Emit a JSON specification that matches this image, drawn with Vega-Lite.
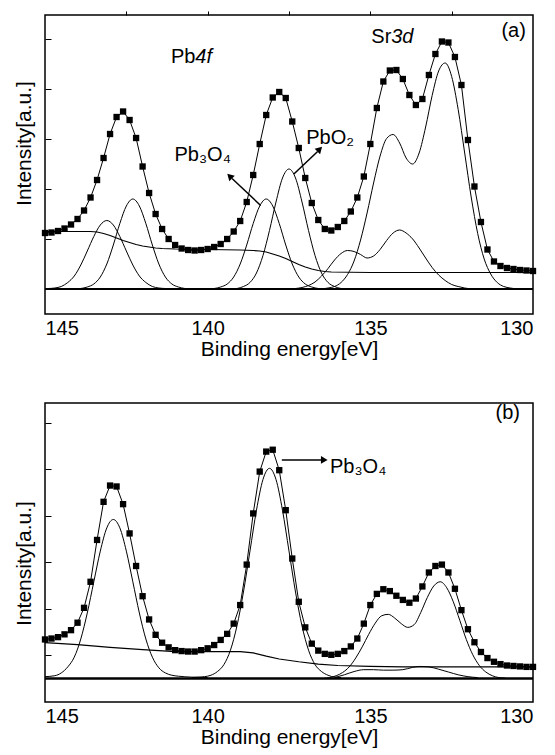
{
  "$schema": "https://vega.github.io/schema/vega-lite/v6.json",
  "padding": {"left": 12, "top": 9, "right": 0, "bottom": 12},
  "spacing": 41,
  "config": {
    "font": "Liberation Sans",
    "view": {"stroke": "#000", "strokeWidth": 1.5},
    "axis": {"grid": false, "domain": false, "labelColor": "#000", "titleColor": "#000", "tickColor": "#000", "titleFontWeight": "normal", "labelFontSize": 20, "titleFontSize": 21}
  },
  "datasets": {
    "zero": [{"v": 0}],
    "aPts": [
      {"x":145.0,"y":1.12},{"x":144.8,"y":1.13},{"x":144.6,"y":1.16},{"x":144.4,"y":1.21},{"x":144.2,"y":1.29},{"x":144.0,"y":1.40},{"x":143.8,"y":1.57},{"x":143.6,"y":1.83},{"x":143.4,"y":2.18},{"x":143.2,"y":2.62},{"x":143.0,"y":3.10},{"x":142.8,"y":3.44},{"x":142.6,"y":3.55},{"x":142.4,"y":3.38},{"x":142.2,"y":3.02},{"x":142.0,"y":2.45},{"x":141.8,"y":1.92},{"x":141.6,"y":1.50},{"x":141.4,"y":1.20},{"x":141.2,"y":1.00},{"x":141.0,"y":0.88},{"x":140.8,"y":0.81},{"x":140.6,"y":0.78},{"x":140.4,"y":0.77},{"x":140.2,"y":0.78},{"x":140.0,"y":0.80},{"x":139.8,"y":0.84},{"x":139.6,"y":0.90},{"x":139.4,"y":1.00},{"x":139.2,"y":1.15},{"x":139.0,"y":1.36},{"x":138.8,"y":1.74},{"x":138.6,"y":2.28},{"x":138.4,"y":2.90},{"x":138.2,"y":3.48},{"x":138.0,"y":3.83},{"x":137.8,"y":3.94},{"x":137.6,"y":3.82},{"x":137.4,"y":3.35},{"x":137.2,"y":2.82},{"x":137.0,"y":2.22},{"x":136.8,"y":1.72},{"x":136.6,"y":1.38},{"x":136.4,"y":1.20},{"x":136.2,"y":1.17},{"x":136.0,"y":1.24},{"x":135.8,"y":1.36},{"x":135.6,"y":1.55},{"x":135.4,"y":1.83},{"x":135.2,"y":2.25},{"x":135.0,"y":2.90},{"x":134.8,"y":3.62},{"x":134.6,"y":4.15},{"x":134.4,"y":4.37},{"x":134.2,"y":4.38},{"x":134.0,"y":4.20},{"x":133.8,"y":3.88},{"x":133.6,"y":3.68},{"x":133.4,"y":3.80},{"x":133.2,"y":4.28},{"x":133.0,"y":4.70},{"x":132.8,"y":4.95},{"x":132.6,"y":4.93},{"x":132.4,"y":4.64},{"x":132.2,"y":4.08},{"x":132.0,"y":2.98},{"x":131.8,"y":2.05},{"x":131.6,"y":1.34},{"x":131.4,"y":0.79},{"x":131.2,"y":0.55},{"x":131.0,"y":0.46},{"x":130.8,"y":0.42},{"x":130.6,"y":0.40},{"x":130.4,"y":0.38},{"x":130.2,"y":0.37},{"x":130.0,"y":0.36}
    ],
    "aBg": [
      {"x":145.0,"y":1.15},{"x":143.6,"y":1.15},{"x":143.4,"y":1.14},{"x":143.2,"y":1.11},{"x":143.0,"y":1.07},{"x":142.8,"y":1.02},{"x":142.6,"y":0.97},{"x":142.4,"y":0.93},{"x":142.2,"y":0.89},{"x":142.0,"y":0.86},{"x":141.8,"y":0.84},{"x":141.6,"y":0.82},{"x":141.4,"y":0.81},{"x":141.0,"y":0.80},{"x":140.0,"y":0.79},{"x":139.0,"y":0.78},{"x":138.6,"y":0.77},{"x":138.4,"y":0.76},{"x":138.2,"y":0.74},{"x":138.0,"y":0.70},{"x":137.8,"y":0.66},{"x":137.6,"y":0.61},{"x":137.4,"y":0.55},{"x":137.2,"y":0.49},{"x":137.0,"y":0.44},{"x":136.8,"y":0.40},{"x":136.6,"y":0.37},{"x":136.4,"y":0.35},{"x":136.2,"y":0.34},{"x":135.0,"y":0.33},{"x":130.0,"y":0.33}
    ],
    "aLines": [
      {"s":"p1","x":144.9,"y":0.01},{"s":"p1","x":144.7,"y":0.02},{"s":"p1","x":144.5,"y":0.05},{"s":"p1","x":144.3,"y":0.13},{"s":"p1","x":144.1,"y":0.26},{"s":"p1","x":143.9,"y":0.48},{"s":"p1","x":143.7,"y":0.76},{"s":"p1","x":143.5,"y":1.05},{"s":"p1","x":143.3,"y":1.28},{"s":"p1","x":143.1,"y":1.37},{"s":"p1","x":142.9,"y":1.28},{"s":"p1","x":142.7,"y":1.05},{"s":"p1","x":142.5,"y":0.76},{"s":"p1","x":142.3,"y":0.48},{"s":"p1","x":142.1,"y":0.26},{"s":"p1","x":141.9,"y":0.13},{"s":"p1","x":141.7,"y":0.05},{"s":"p1","x":141.5,"y":0.02},{"s":"p1","x":141.3,"y":0.01},
      {"s":"p2","x":144.1,"y":0.0},{"s":"p2","x":143.9,"y":0.01},{"s":"p2","x":143.7,"y":0.04},{"s":"p2","x":143.5,"y":0.10},{"s":"p2","x":143.3,"y":0.24},{"s":"p2","x":143.1,"y":0.50},{"s":"p2","x":142.9,"y":0.88},{"s":"p2","x":142.7,"y":1.31},{"s":"p2","x":142.5,"y":1.66},{"s":"p2","x":142.3,"y":1.80},{"s":"p2","x":142.1,"y":1.66},{"s":"p2","x":141.9,"y":1.31},{"s":"p2","x":141.7,"y":0.88},{"s":"p2","x":141.5,"y":0.50},{"s":"p2","x":141.3,"y":0.24},{"s":"p2","x":141.1,"y":0.10},{"s":"p2","x":140.9,"y":0.04},{"s":"p2","x":140.7,"y":0.01},{"s":"p2","x":140.5,"y":0.0},
      {"s":"p3","x":140.0,"y":0.0},{"s":"p3","x":139.8,"y":0.01},{"s":"p3","x":139.6,"y":0.04},{"s":"p3","x":139.4,"y":0.10},{"s":"p3","x":139.2,"y":0.24},{"s":"p3","x":139.0,"y":0.50},{"s":"p3","x":138.8,"y":0.88},{"s":"p3","x":138.6,"y":1.31},{"s":"p3","x":138.4,"y":1.66},{"s":"p3","x":138.2,"y":1.80},{"s":"p3","x":138.0,"y":1.66},{"s":"p3","x":137.8,"y":1.31},{"s":"p3","x":137.6,"y":0.88},{"s":"p3","x":137.4,"y":0.50},{"s":"p3","x":137.2,"y":0.24},{"s":"p3","x":137.0,"y":0.10},{"s":"p3","x":136.8,"y":0.04},{"s":"p3","x":136.6,"y":0.01},{"s":"p3","x":136.4,"y":0.0},
      {"s":"p4","x":139.3,"y":0.0},{"s":"p4","x":139.1,"y":0.01},{"s":"p4","x":138.9,"y":0.05},{"s":"p4","x":138.7,"y":0.13},{"s":"p4","x":138.5,"y":0.32},{"s":"p4","x":138.3,"y":0.67},{"s":"p4","x":138.1,"y":1.17},{"s":"p4","x":137.9,"y":1.74},{"s":"p4","x":137.7,"y":2.22},{"s":"p4","x":137.5,"y":2.40},{"s":"p4","x":137.3,"y":2.22},{"s":"p4","x":137.1,"y":1.74},{"s":"p4","x":136.9,"y":1.17},{"s":"p4","x":136.7,"y":0.67},{"s":"p4","x":136.5,"y":0.32},{"s":"p4","x":136.3,"y":0.13},{"s":"p4","x":136.1,"y":0.05},{"s":"p4","x":135.9,"y":0.01},{"s":"p4","x":135.7,"y":0.0},
      {"s":"srA","x":136.5,"y":0.0},{"s":"srA","x":136.3,"y":0.02},{"s":"srA","x":136.1,"y":0.05},{"s":"srA","x":135.9,"y":0.13},{"s":"srA","x":135.7,"y":0.29},{"s":"srA","x":135.5,"y":0.56},{"s":"srA","x":135.3,"y":0.98},{"s":"srA","x":135.1,"y":1.52},{"s":"srA","x":134.9,"y":2.12},{"s":"srA","x":134.7,"y":2.66},{"s":"srA","x":134.5,"y":3.01},{"s":"srA","x":134.3,"y":3.09},{"s":"srA","x":134.1,"y":2.92},{"s":"srA","x":133.9,"y":2.62},{"s":"srA","x":133.7,"y":2.50},{"s":"srA","x":133.5,"y":2.72},{"s":"srA","x":133.3,"y":3.24},{"s":"srA","x":133.1,"y":3.87},{"s":"srA","x":132.9,"y":4.36},{"s":"srA","x":132.7,"y":4.52},{"s":"srA","x":132.5,"y":4.25},{"s":"srA","x":132.3,"y":3.59},{"s":"srA","x":132.1,"y":2.72},{"s":"srA","x":131.9,"y":1.84},{"s":"srA","x":131.7,"y":1.11},{"s":"srA","x":131.5,"y":0.60},{"s":"srA","x":131.3,"y":0.30},{"s":"srA","x":131.1,"y":0.13},{"s":"srA","x":130.9,"y":0.05},{"s":"srA","x":130.7,"y":0.02},{"s":"srA","x":130.5,"y":0.0},
      {"s":"srB","x":137.5,"y":0.0},{"s":"srB","x":137.3,"y":0.01},{"s":"srB","x":137.1,"y":0.03},{"s":"srB","x":136.9,"y":0.07},{"s":"srB","x":136.7,"y":0.14},{"s":"srB","x":136.5,"y":0.26},{"s":"srB","x":136.3,"y":0.41},{"s":"srB","x":136.1,"y":0.58},{"s":"srB","x":135.9,"y":0.71},{"s":"srB","x":135.7,"y":0.77},{"s":"srB","x":135.5,"y":0.75},{"s":"srB","x":135.3,"y":0.69},{"s":"srB","x":135.1,"y":0.62},{"s":"srB","x":134.9,"y":0.66},{"s":"srB","x":134.7,"y":0.79},{"s":"srB","x":134.5,"y":0.97},{"s":"srB","x":134.3,"y":1.12},{"s":"srB","x":134.1,"y":1.18},{"s":"srB","x":133.9,"y":1.12},{"s":"srB","x":133.7,"y":1.00},{"s":"srB","x":133.5,"y":0.82},{"s":"srB","x":133.3,"y":0.62},{"s":"srB","x":133.1,"y":0.43},{"s":"srB","x":132.9,"y":0.28},{"s":"srB","x":132.7,"y":0.17},{"s":"srB","x":132.5,"y":0.09},{"s":"srB","x":132.3,"y":0.05},{"s":"srB","x":132.1,"y":0.02},{"s":"srB","x":131.9,"y":0.0}
    ],
    "aTxt": [
      {"x":141.13,"y":4.65,"t":"Pb"},{"x":134.97,"y":5.05,"t":"Sr"},{"x":130.97,"y":5.17,"t":"(a)"},{"x":141.02,"y":2.68,"t":"Pb₃O₄"},{"x":136.97,"y":3.03,"t":"PbO₂"}
    ],
    "aIt": [
      {"x":140.38,"y":4.65,"t":"4f"},{"x":134.36,"y":5.05,"t":"3d"}
    ],
    "aArr": [
      {"x":138.37,"y":1.67,"x2":139.25,"y2":2.21},{"x":137.35,"y":2.30,"x2":136.62,"y2":2.75}
    ],
    "aHead": [
      {"x":139.3,"y":2.24,"ang":315},{"x":136.58,"y":2.78,"ang":45}
    ],
    "bPts": [
      {"x":145.0,"y":0.84},{"x":144.8,"y":0.86},{"x":144.6,"y":0.89},{"x":144.4,"y":0.95},{"x":144.2,"y":1.04},{"x":144.0,"y":1.20},{"x":143.8,"y":1.52},{"x":143.6,"y":2.08},{"x":143.4,"y":2.98},{"x":143.2,"y":3.80},{"x":143.0,"y":4.15},{"x":142.8,"y":4.13},{"x":142.6,"y":3.75},{"x":142.4,"y":3.12},{"x":142.2,"y":2.42},{"x":142.0,"y":1.77},{"x":141.8,"y":1.27},{"x":141.6,"y":0.94},{"x":141.4,"y":0.77},{"x":141.2,"y":0.67},{"x":141.0,"y":0.61},{"x":140.8,"y":0.59},{"x":140.6,"y":0.58},{"x":140.4,"y":0.58},{"x":140.2,"y":0.61},{"x":140.0,"y":0.65},{"x":139.8,"y":0.72},{"x":139.6,"y":0.83},{"x":139.4,"y":0.96},{"x":139.2,"y":1.18},{"x":139.0,"y":1.58},{"x":138.8,"y":2.45},{"x":138.6,"y":3.55},{"x":138.4,"y":4.45},{"x":138.2,"y":4.88},{"x":138.0,"y":4.92},{"x":137.8,"y":4.48},{"x":137.6,"y":3.62},{"x":137.4,"y":2.58},{"x":137.2,"y":1.65},{"x":137.0,"y":1.10},{"x":136.8,"y":0.75},{"x":136.6,"y":0.60},{"x":136.4,"y":0.53},{"x":136.2,"y":0.51},{"x":136.0,"y":0.53},{"x":135.8,"y":0.59},{"x":135.6,"y":0.69},{"x":135.4,"y":0.86},{"x":135.2,"y":1.18},{"x":135.0,"y":1.58},{"x":134.8,"y":1.82},{"x":134.6,"y":1.92},{"x":134.4,"y":1.88},{"x":134.2,"y":1.78},{"x":134.0,"y":1.69},{"x":133.8,"y":1.63},{"x":133.6,"y":1.72},{"x":133.4,"y":1.98},{"x":133.2,"y":2.28},{"x":133.0,"y":2.42},{"x":132.8,"y":2.45},{"x":132.6,"y":2.28},{"x":132.4,"y":1.93},{"x":132.2,"y":1.47},{"x":132.0,"y":1.06},{"x":131.8,"y":0.78},{"x":131.6,"y":0.57},{"x":131.4,"y":0.44},{"x":131.2,"y":0.36},{"x":131.0,"y":0.31},{"x":130.8,"y":0.28},{"x":130.6,"y":0.27},{"x":130.4,"y":0.26},{"x":130.2,"y":0.25},{"x":130.0,"y":0.25}
    ],
    "bBg": [
      {"x":145.0,"y":0.77},{"x":144.0,"y":0.73},{"x":143.0,"y":0.67},{"x":142.0,"y":0.62},{"x":141.0,"y":0.58},{"x":140.0,"y":0.58},{"x":139.0,"y":0.58},{"x":138.6,"y":0.55},{"x":138.2,"y":0.48},{"x":137.8,"y":0.42},{"x":137.2,"y":0.36},{"x":136.6,"y":0.31},{"x":136.0,"y":0.28},{"x":135.0,"y":0.26},{"x":134.0,"y":0.25},{"x":130.0,"y":0.25}
    ],
    "bLines": [
      {"s":"L","x":145.0,"y":0.04},{"s":"L","x":144.7,"y":0.06},{"s":"L","x":144.5,"y":0.12},{"s":"L","x":144.3,"y":0.25},{"s":"L","x":144.1,"y":0.46},{"s":"L","x":143.9,"y":0.85},{"s":"L","x":143.7,"y":1.41},{"s":"L","x":143.5,"y":2.08},{"s":"L","x":143.3,"y":2.74},{"s":"L","x":143.1,"y":3.24},{"s":"L","x":142.9,"y":3.42},{"s":"L","x":142.7,"y":3.24},{"s":"L","x":142.5,"y":2.74},{"s":"L","x":142.3,"y":2.08},{"s":"L","x":142.1,"y":1.41},{"s":"L","x":141.9,"y":0.85},{"s":"L","x":141.7,"y":0.46},{"s":"L","x":141.5,"y":0.23},{"s":"L","x":141.3,"y":0.12},{"s":"L","x":141.1,"y":0.07},{"s":"L","x":140.9,"y":0.05},{"s":"L","x":140.5,"y":0.03},{"s":"L","x":140.0,"y":0.02},
      {"s":"M","x":140.5,"y":0.02},{"s":"M","x":140.3,"y":0.03},{"s":"M","x":140.1,"y":0.04},{"s":"M","x":139.9,"y":0.07},{"s":"M","x":139.7,"y":0.15},{"s":"M","x":139.5,"y":0.30},{"s":"M","x":139.3,"y":0.61},{"s":"M","x":139.1,"y":1.13},{"s":"M","x":138.9,"y":1.86},{"s":"M","x":138.7,"y":2.74},{"s":"M","x":138.5,"y":3.62},{"s":"M","x":138.3,"y":4.28},{"s":"M","x":138.1,"y":4.52},{"s":"M","x":137.9,"y":4.28},{"s":"M","x":137.7,"y":3.62},{"s":"M","x":137.5,"y":2.74},{"s":"M","x":137.3,"y":1.86},{"s":"M","x":137.1,"y":1.13},{"s":"M","x":136.9,"y":0.61},{"s":"M","x":136.7,"y":0.30},{"s":"M","x":136.5,"y":0.15},{"s":"M","x":136.3,"y":0.07},{"s":"M","x":136.1,"y":0.03},{"s":"M","x":135.9,"y":0.02},
      {"s":"S","x":136.45,"y":0.0},{"s":"S","x":136.25,"y":0.02},{"s":"S","x":136.05,"y":0.06},{"s":"S","x":135.85,"y":0.13},{"s":"S","x":135.65,"y":0.25},{"s":"S","x":135.45,"y":0.44},{"s":"S","x":135.25,"y":0.68},{"s":"S","x":135.05,"y":0.95},{"s":"S","x":134.85,"y":1.19},{"s":"S","x":134.65,"y":1.35},{"s":"S","x":134.45,"y":1.38},{"s":"S","x":134.25,"y":1.30},{"s":"S","x":134.05,"y":1.18},{"s":"S","x":133.85,"y":1.10},{"s":"S","x":133.65,"y":1.16},{"s":"S","x":133.45,"y":1.42},{"s":"S","x":133.25,"y":1.74},{"s":"S","x":133.05,"y":1.99},{"s":"S","x":132.85,"y":2.08},{"s":"S","x":132.65,"y":1.95},{"s":"S","x":132.45,"y":1.65},{"s":"S","x":132.25,"y":1.25},{"s":"S","x":132.05,"y":0.84},{"s":"S","x":131.85,"y":0.51},{"s":"S","x":131.65,"y":0.28},{"s":"S","x":131.45,"y":0.14},{"s":"S","x":131.25,"y":0.06},{"s":"S","x":131.05,"y":0.02},{"s":"S","x":130.85,"y":0.01},
      {"s":"T","x":136.1,"y":0.02},{"s":"T","x":135.8,"y":0.08},{"s":"T","x":135.5,"y":0.15},{"s":"T","x":135.2,"y":0.19},{"s":"T","x":134.9,"y":0.19},{"s":"T","x":134.6,"y":0.18},{"s":"T","x":134.3,"y":0.18},{"s":"T","x":134.0,"y":0.19},{"s":"T","x":133.7,"y":0.24},{"s":"T","x":133.5,"y":0.26},{"s":"T","x":133.2,"y":0.25},{"s":"T","x":132.9,"y":0.20},{"s":"T","x":132.6,"y":0.14},{"s":"T","x":132.3,"y":0.08},{"s":"T","x":132.0,"y":0.04},{"s":"T","x":131.7,"y":0.02}
    ],
    "bTxt": [
      {"x":131.15,"y":5.72,"t":"(b)"},{"x":136.24,"y":4.55,"t":"Pb₃O₄"}
    ],
    "bArr": [
      {"x":137.72,"y":4.70,"x2":136.5,"y2":4.70}
    ],
    "bHead": [
      {"x":136.45,"y":4.70,"ang":90}
    ]
  },
  "vconcat": [
    {
      "width": 488,
      "height": 299,
      "resolve": {"axis": {"x": "independent"}},
      "layer": [
        {
          "data": {"name": "aLines"},
          "mark": {"type": "line", "color": "#000", "strokeWidth": 1, "interpolate": "monotone"},
          "encoding": {
            "x": {"field": "x", "type": "quantitative", "scale": {"domain": [145, 130], "nice": false, "zero": false}, "axis": {"values": [145, 140, 135, 130], "ticks": false, "format": "d", "labelPadding": 4, "title": "Binding energy[eV]", "titleY": 24, "titleBaseline": "top"}},
            "y": {"field": "y", "type": "quantitative", "scale": {"domain": [-0.5, 5.48], "nice": false, "zero": false}, "axis": {"values": [1, 2, 3, 4, 5], "labels": false, "tickSize": -6, "title": "Intensity[a.u.]", "titlePadding": 10, "titleY": 128}},
            "detail": {"field": "s"}
          }
        },
        {
          "data": {"name": "aBg"},
          "mark": {"type": "line", "color": "#000", "strokeWidth": 1.2},
          "encoding": {
            "x": {"field": "x", "type": "quantitative", "axis": {"orient": "top", "values": [142.5, 140, 137.5, 135, 132.5], "labels": false, "tickSize": 4, "title": null}},
            "y": {"field": "y", "type": "quantitative"}
          }
        },
        {
          "data": {"name": "zero"},
          "mark": {"type": "rule", "color": "#000", "strokeWidth": 2},
          "encoding": {"y": {"field": "v", "type": "quantitative"}}
        },
        {
          "data": {"name": "aPts"},
          "mark": {"type": "line", "color": "#000", "strokeWidth": 1},
          "encoding": {
            "x": {"field": "x", "type": "quantitative", "axis": null},
            "y": {"field": "y", "type": "quantitative"}
          }
        },
        {
          "data": {"name": "aPts"},
          "mark": {"type": "square", "color": "#000", "filled": true, "opacity": 1, "size": 40},
          "encoding": {
            "x": {"field": "x", "type": "quantitative", "axis": null},
            "y": {"field": "y", "type": "quantitative"}
          }
        },
        {
          "data": {"name": "aArr"},
          "mark": {"type": "rule", "color": "#000", "strokeWidth": 1.5},
          "encoding": {
            "x": {"field": "x", "type": "quantitative", "axis": null},
            "y": {"field": "y", "type": "quantitative"},
            "x2": {"field": "x2"},
            "y2": {"field": "y2"}
          }
        },
        {
          "data": {"name": "aHead"},
          "mark": {"type": "point", "shape": "triangle", "filled": true, "color": "#000", "opacity": 1, "size": 60},
          "encoding": {
            "x": {"field": "x", "type": "quantitative", "axis": null},
            "y": {"field": "y", "type": "quantitative"},
            "angle": {"field": "ang", "type": "quantitative", "scale": null}
          }
        },
        {
          "data": {"name": "aTxt"},
          "mark": {"type": "text", "align": "left", "baseline": "middle", "fontSize": 20, "color": "#000"},
          "encoding": {
            "x": {"field": "x", "type": "quantitative", "axis": null},
            "y": {"field": "y", "type": "quantitative"},
            "text": {"field": "t"}
          }
        },
        {
          "data": {"name": "aIt"},
          "mark": {"type": "text", "align": "left", "baseline": "middle", "fontSize": 20, "fontStyle": "italic", "color": "#000"},
          "encoding": {
            "x": {"field": "x", "type": "quantitative", "axis": null},
            "y": {"field": "y", "type": "quantitative"},
            "text": {"field": "t"}
          }
        }
      ]
    },
    {
      "width": 488,
      "height": 299,
      "layer": [
        {
          "data": {"name": "bLines"},
          "mark": {"type": "line", "color": "#000", "strokeWidth": 1, "interpolate": "monotone"},
          "encoding": {
            "x": {"field": "x", "type": "quantitative", "scale": {"domain": [145, 130], "nice": false, "zero": false}, "axis": {"values": [145, 140, 135, 130], "ticks": false, "format": "d", "labelPadding": 4, "title": "Binding energy[eV]", "titleY": 24, "titleBaseline": "top"}},
            "y": {"field": "y", "type": "quantitative", "scale": {"domain": [-0.505, 5.925], "nice": false, "zero": false}, "axis": {"values": [0.5, 1, 1.5, 2, 2.5, 3, 3.5, 4, 4.5, 5, 5.5], "labels": false, "tickSize": -6, "title": "Intensity[a.u.]", "titlePadding": 10, "titleY": 160}},
            "detail": {"field": "s"}
          }
        },
        {
          "data": {"name": "bBg"},
          "mark": {"type": "line", "color": "#000", "strokeWidth": 1.2},
          "encoding": {
            "x": {"field": "x", "type": "quantitative"},
            "y": {"field": "y", "type": "quantitative"}
          }
        },
        {
          "data": {"name": "zero"},
          "mark": {"type": "rule", "color": "#000", "strokeWidth": 2.5},
          "encoding": {"y": {"field": "v", "type": "quantitative"}}
        },
        {
          "data": {"name": "bPts"},
          "mark": {"type": "line", "color": "#000", "strokeWidth": 1},
          "encoding": {
            "x": {"field": "x", "type": "quantitative"},
            "y": {"field": "y", "type": "quantitative"}
          }
        },
        {
          "data": {"name": "bPts"},
          "mark": {"type": "square", "color": "#000", "filled": true, "opacity": 1, "size": 40},
          "encoding": {
            "x": {"field": "x", "type": "quantitative"},
            "y": {"field": "y", "type": "quantitative"}
          }
        },
        {
          "data": {"name": "bArr"},
          "mark": {"type": "rule", "color": "#000", "strokeWidth": 1.5},
          "encoding": {
            "x": {"field": "x", "type": "quantitative"},
            "y": {"field": "y", "type": "quantitative"},
            "x2": {"field": "x2"},
            "y2": {"field": "y2"}
          }
        },
        {
          "data": {"name": "bHead"},
          "mark": {"type": "point", "shape": "triangle", "filled": true, "color": "#000", "opacity": 1, "size": 60},
          "encoding": {
            "x": {"field": "x", "type": "quantitative"},
            "y": {"field": "y", "type": "quantitative"},
            "angle": {"field": "ang", "type": "quantitative", "scale": null}
          }
        },
        {
          "data": {"name": "bTxt"},
          "mark": {"type": "text", "align": "left", "baseline": "middle", "fontSize": 20, "color": "#000"},
          "encoding": {
            "x": {"field": "x", "type": "quantitative"},
            "y": {"field": "y", "type": "quantitative"},
            "text": {"field": "t"}
          }
        }
      ]
    }
  ]
}
